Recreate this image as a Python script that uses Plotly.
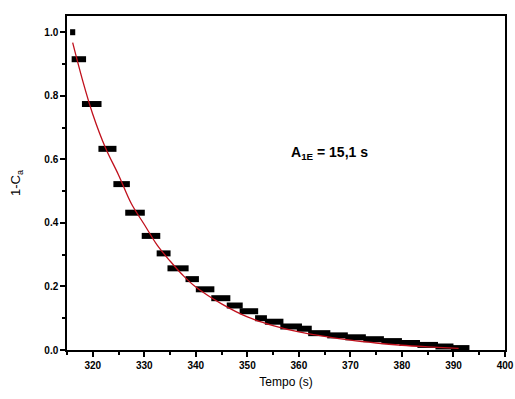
import plotly.graph_objects as go

# Step data (start time, end time, 1-C value)
step_start = [315.6, 315.9, 317.9, 321.1, 324.0, 326.3, 329.5, 332.4, 334.5, 338.0, 340.0, 343.0,
              346.0, 348.5, 351.5, 353.4, 356.4, 359.6, 361.8, 365.5, 369.0, 372.5, 376.0, 379.5,
              383.0, 386.5, 389.5]
step_end = [316.6, 318.7, 321.7, 324.6, 327.2, 330.1, 333.1, 335.1, 338.6, 340.6, 343.6, 346.7,
            349.1, 352.1, 353.8, 357.0, 360.6, 362.5, 366.1, 369.5, 373.0, 376.5, 380.0, 383.5,
            387.0, 390.0, 393.1]
step_y = [1.0, 0.915, 0.774, 0.633, 0.522, 0.432, 0.359, 0.304, 0.257, 0.223, 0.191, 0.163,
          0.140, 0.122, 0.100, 0.089, 0.074, 0.067, 0.053, 0.046, 0.040, 0.034, 0.028, 0.022,
          0.016, 0.011, 0.006]

# Fitted curve
fit_x = [316.1, 318, 320, 322.5, 325, 327.5, 330, 332.5, 335, 337.5, 340, 345, 350, 355,
         360, 365, 370, 375, 380, 385, 391]
fit_y = [0.967, 0.85, 0.742, 0.635, 0.551, 0.46, 0.395, 0.33, 0.28, 0.235, 0.198, 0.145,
         0.104, 0.077, 0.057, 0.043, 0.031, 0.022, 0.015, 0.010, 0.005]

x_ticks = [320, 330, 340, 350, 360, 370, 380, 390, 400]
y_ticks = [0.0, 0.2, 0.4, 0.6, 0.8, 1.0]

sx, sy = [], []
for a, b, v in zip(step_start, step_end, step_y):
    sx += [a, b, None]
    sy += [v, v, None]

fig = go.Figure()
fig.add_trace(go.Scatter(x=sx, y=sy, mode="lines", line=dict(color="black", width=6),
                         showlegend=False, hoverinfo="skip"))
fig.add_trace(go.Scatter(x=fit_x, y=fit_y, mode="lines", line=dict(color="#c0101c", width=1.3, shape="spline"),
                         showlegend=False))

fig.add_annotation(x=366, y=0.62, text="<b>A<sub>1E</sub> = 15,1 s</b>", showarrow=False,
                   font=dict(family="Arial, Liberation Sans", size=14, color="black"))

fig.update_layout(
    width=515, height=399,
    margin=dict(l=67, r=10, t=16, b=49),
    plot_bgcolor="white", paper_bgcolor="white",
    font=dict(family="Arial, Liberation Sans", color="black"),
)
fig.update_xaxes(range=[315, 400], tickvals=x_ticks, ticktext=[f"<b>{v}</b>" for v in x_ticks],
                 automargin=False, ticklabeloverflow="allow",
                 showgrid=False, zeroline=False, showline=True, linecolor="black", linewidth=1.5,
                 mirror=True, ticks="outside", ticklen=5, tickwidth=1.5, tickcolor="black",
                 tickfont=dict(size=10), minor=dict(ticks="outside", ticklen=3, dtick=5, tick0=315, tickcolor="black"),
                 title=dict(text="Tempo (s)", font=dict(size=12), standoff=8))
fig.update_yaxes(range=[0, 1.051], tickvals=y_ticks, ticktext=[f"<b>{v:.1f}</b>" for v in y_ticks],
                 automargin=False,
                 showgrid=False, zeroline=False, showline=True, linecolor="black", linewidth=1.5,
                 mirror=True, ticks="outside", ticklen=5, tickwidth=1.5, tickcolor="black",
                 tickfont=dict(size=10), minor=dict(ticks="outside", ticklen=3, dtick=0.1, tickcolor="black"),
                 title=dict(text="1-C<sub>a</sub>", font=dict(size=13), standoff=21))

fig.write_html("out.html", config={"displayModeBar": False},
               post_script="document.body.style.margin='0';")
